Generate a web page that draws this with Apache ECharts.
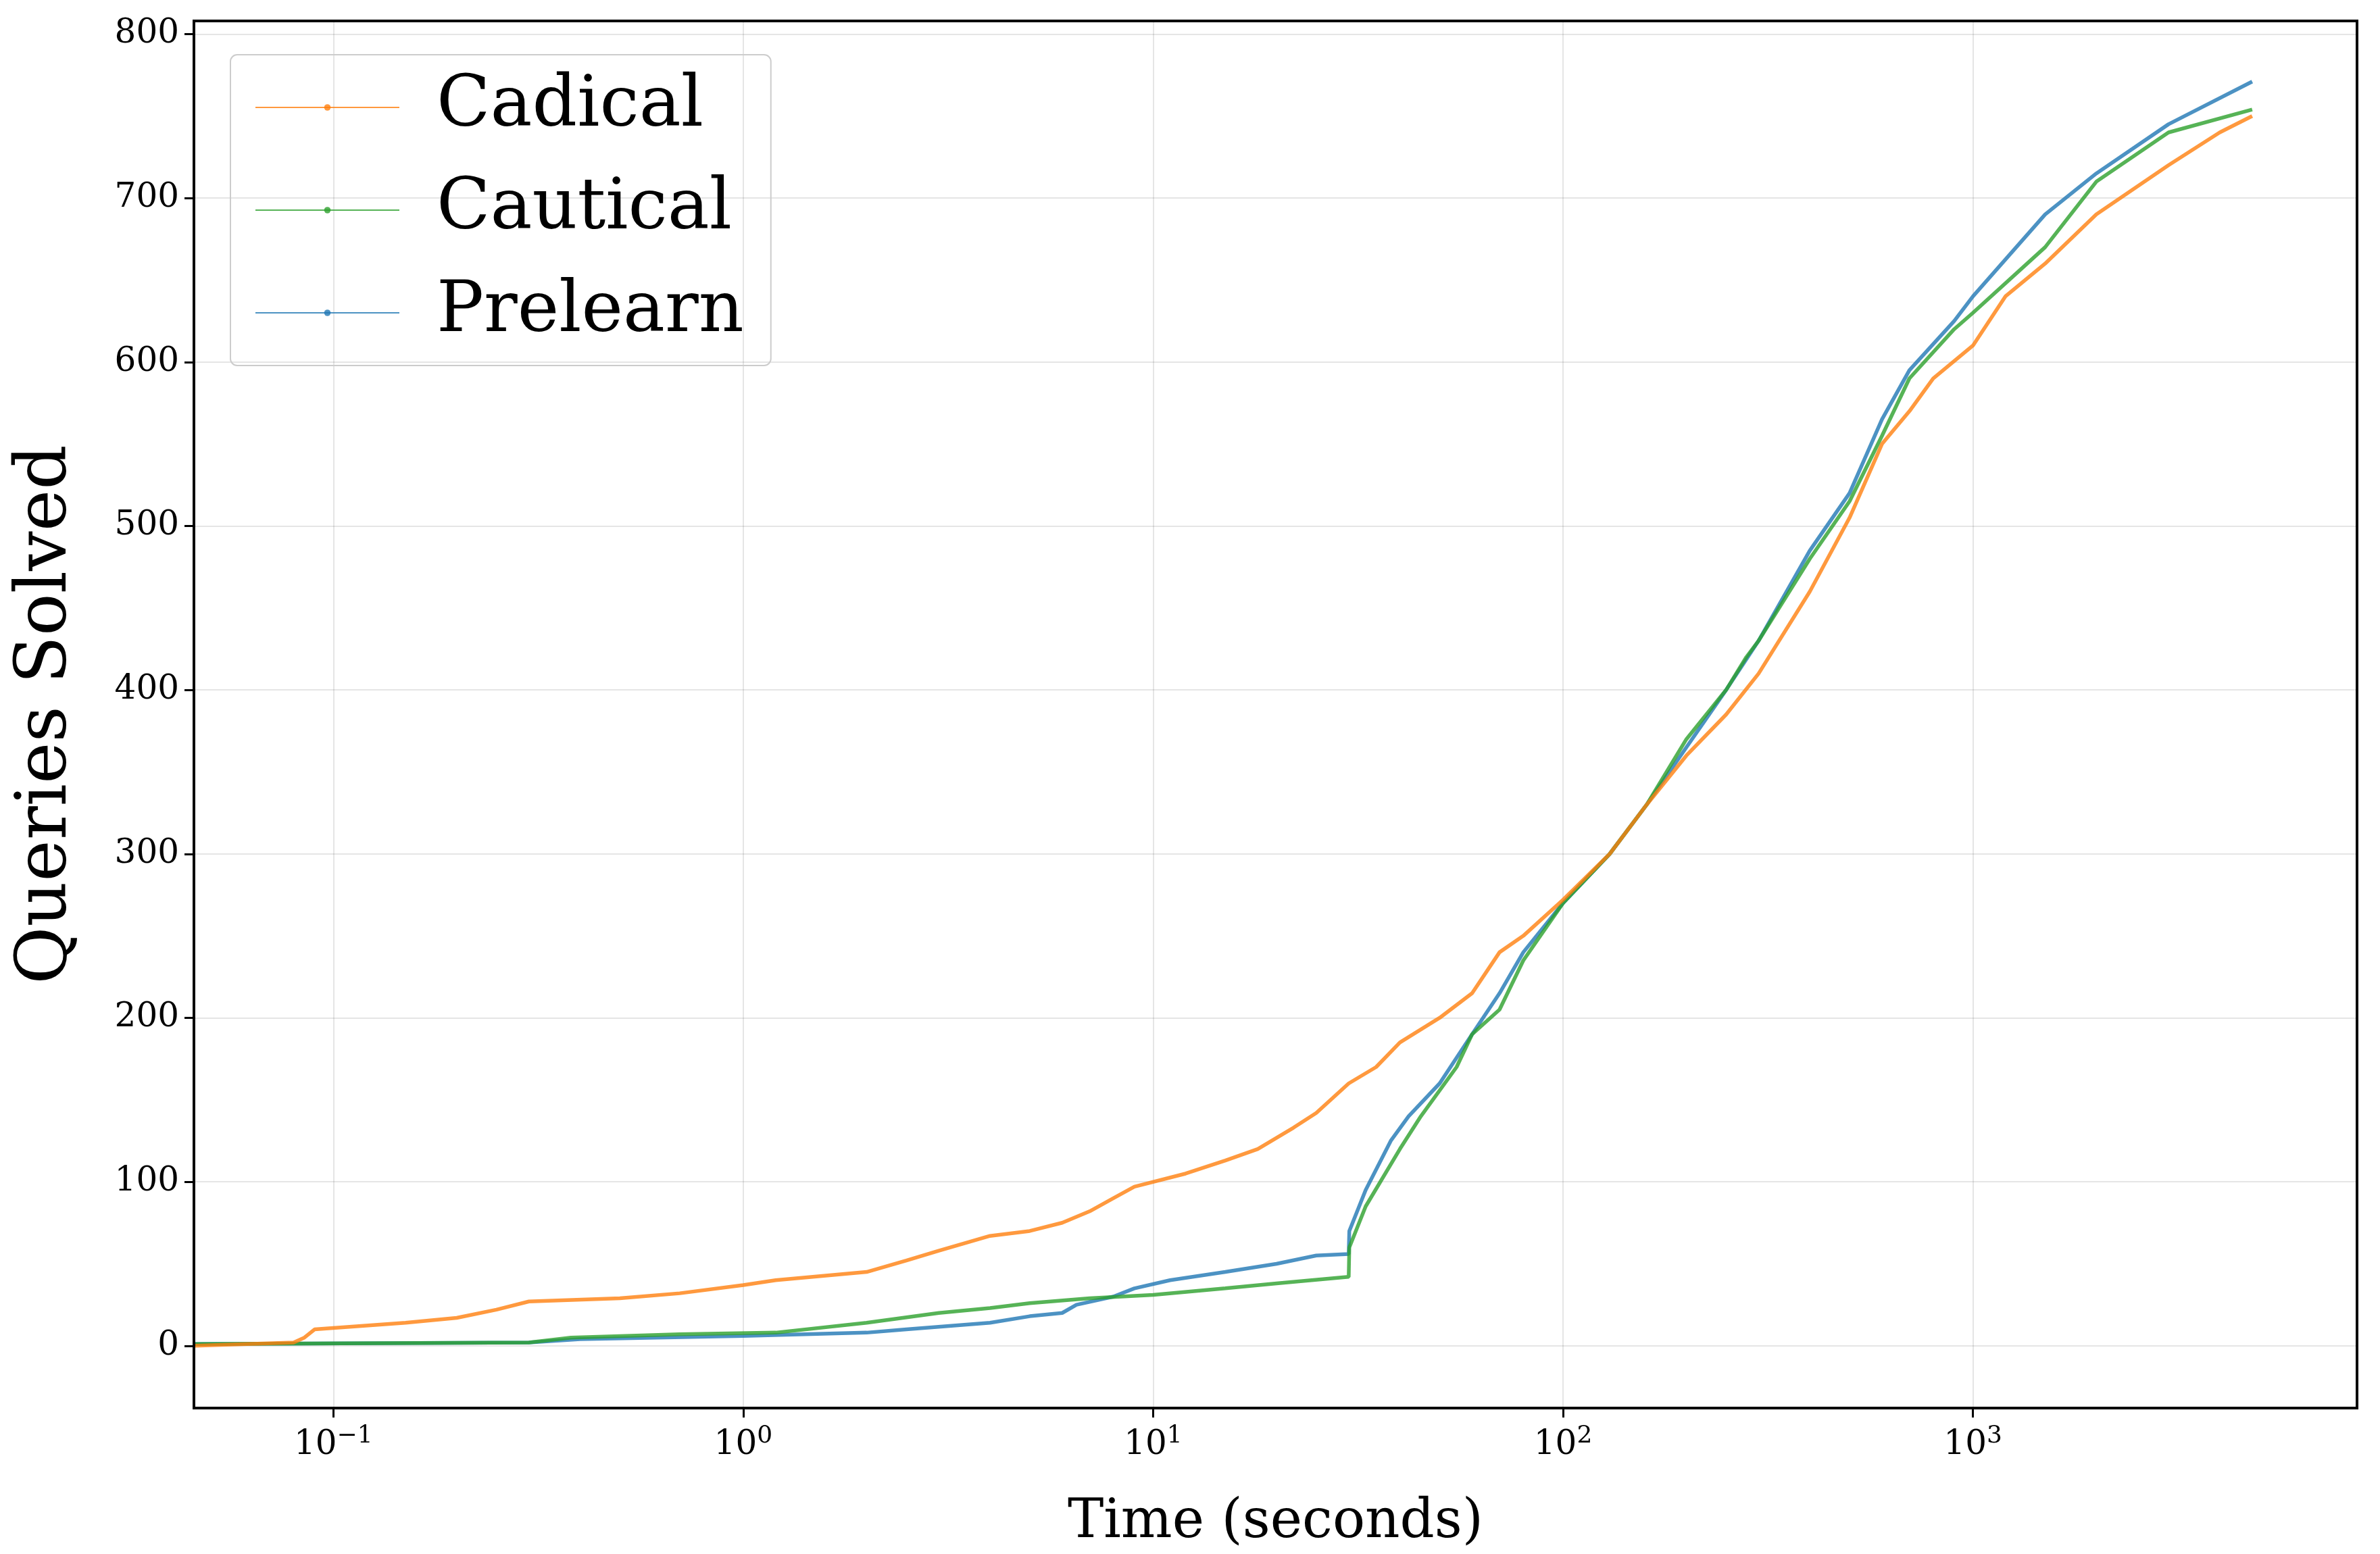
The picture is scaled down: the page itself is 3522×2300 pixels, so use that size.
<!DOCTYPE html>
<html><head><meta charset="utf-8">
<script src="https://cdn.jsdelivr.net/npm/echarts@6/dist/echarts.min.js"></script>
<style>html,body{margin:0;background:#fff}#c{width:3522px;height:2300px}</style>
</head><body><div id="c"></div>
<script>
const seriesNames = ['Cadical','Cautical','Prelearn'];
const cadicalT = [0.046,0.08,0.085,0.09,0.15,0.2,0.25,0.3,0.5,0.7,1.0,1.2,2,2.5,3,4,5,6,7,8,9,12,15,18,22,25,30,35,40,50,60,70,80,100,130,160,200,250,300,400,500,600,700,800,1000,1200,1500,2000,3000,4000,4800];
const cadicalN = [0,2,5,10,14,17,22,27,29,32,37,40,45,52,58,67,70,75,82,90,97,105,113,120,133,142,160,170,185,200,215,240,250,272,300,330,360,385,410,460,505,550,570,590,610,640,660,690,720,740,750];
const cauticalT = [0.046,0.3,0.38,0.7,1.2,2,3,4,5,7,10,15,20,30,30.1,33,40,45,55,60,70,80,100,130,160,200,250,280,300,400,500,600,700,900,1000,1500,2000,3000,4800];
const cauticalN = [1,2,5,7,8,14,20,23,26,29,31,35,38,42,60,85,120,140,170,190,205,235,270,300,330,370,400,420,430,480,515,555,590,620,630,670,710,740,754];
const prelearnT = [0.046,0.3,0.4,1,2,2.5,4,5,6,6.5,8,9,11,15,20,25,30,30.1,33,38,42,50,60,70,80,100,130,160,200,250,300,400,500,600,700,900,1000,1500,2000,3000,4800];
const prelearnN = [1,2,4,6,8,10,14,18,20,25,30,35,40,45,50,55,56,70,95,125,140,160,190,215,240,270,300,330,365,400,430,485,520,565,595,625,640,690,715,745,771];
const colors = ['rgba(255,127,14,0.8)','rgba(44,160,44,0.8)','rgba(31,119,180,0.8)'];
const zip = (t,n)=>t.map((v,i)=>[v,n[i]]);
const datas = [zip(cadicalT,cadicalN), zip(cauticalT,cauticalN), zip(prelearnT,prelearnN)];
const F = 'DejaVu Serif';
const chart = echarts.init(document.getElementById('c'));
chart.setOption({
  animation:false,
  textStyle:{fontFamily:F},
  grid:{left:287,right:34,top:31,bottom:216},
  legend:{left:341,top:81,orient:'vertical',itemWidth:213,itemHeight:12,itemGap:48,
    padding:[26,40,26,36],borderColor:'#ccc',borderWidth:2,borderRadius:10,
    textStyle:{fontFamily:F,fontSize:104,color:'#000',padding:[0,0,0,50]},data:seriesNames},
  xAxis:{type:'log',logBase:10,min:0.0457,max:8650,
    name:'Time (seconds)',nameLocation:'middle',nameGap:130,
    nameTextStyle:{fontFamily:F,fontSize:80,color:'#000'},
    axisLine:{onZero:false,lineStyle:{color:'#000',width:4}},
    axisTick:{length:14,lineStyle:{color:'#000',width:3}},
    splitLine:{show:true,lineStyle:{color:'rgba(0,0,0,0.1)',width:2}},
    axisLabel:{fontFamily:F,fontSize:50,color:'#000',margin:24,showMinLabel:false,showMaxLabel:false,
      formatter:v=>{const e=Math.round(Math.log10(v));if(Math.abs(Math.log10(v)-e)>1e-6)return '';return '10{s|'+(e<0?'\u2212'+(-e):e)+'}';},
      rich:{s:{fontFamily:F,fontSize:36,color:'#000',padding:[0,0,26,0]}}}},
  yAxis:{type:'value',min:-38,max:808,splitNumber:8,
    name:'Queries Solved',nameLocation:'middle',nameGap:165,
    nameTextStyle:{fontFamily:F,fontSize:104,color:'#000'},
    axisLine:{show:true,lineStyle:{color:'#000',width:4}},
    axisTick:{show:true,length:14,lineStyle:{color:'#000',width:3}},
    splitLine:{show:true,lineStyle:{color:'rgba(0,0,0,0.1)',width:2}},
    axisLabel:{fontFamily:F,fontSize:50,color:'#000',margin:22,showMinLabel:false,showMaxLabel:false,
      formatter:v=>(v%100===0?String(v):'')}},
  series:seriesNames.map((n,i)=>({name:n,type:'line',data:datas[i],symbol:'none',showSymbol:false,
    color:colors[i],lineStyle:{width:5.5,color:colors[i]},z:3-i}))
});
chart.setOption({graphic:[{type:'rect',shape:{x:287,y:31,width:3522-287-34,height:2300-31-216},style:{fill:'none',stroke:'#000',lineWidth:4},z:100}]});
</script></body></html>
